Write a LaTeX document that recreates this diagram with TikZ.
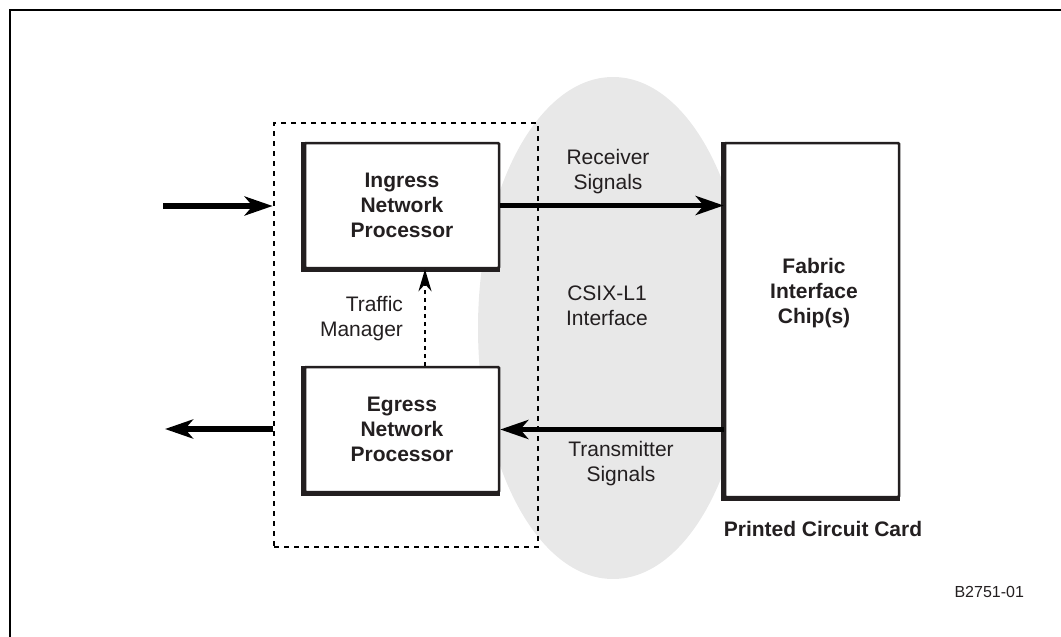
\documentclass[tikz,border=0pt]{standalone}
\usepackage{fontspec}
\setmainfont{Liberation Sans}
\usepackage{xcolor}
\usepackage{tikz}
\usetikzlibrary{positioning,arrows.meta}
\definecolor{ink}{HTML}{231F20}
\definecolor{csix}{HTML}{E8E8E8}

\begin{document}
\begin{tikzpicture}[
  x=0.5pt, y=-0.5pt,
  chip/.style={draw=ink, fill=white, line width=1.25pt, rounded corners=0.5pt, inner sep=0pt,
    align=center, text=ink, font=\fontsize{10.5}{12.5}\selectfont\bfseries},
  lbl/.style={text=ink, align=center, font=\fontsize{10.5}{12.5}\selectfont},
  blbl/.style={lbl, font=\fontsize{10.5}{12.5}\selectfont\bfseries},
  sig/.style={draw=black, line width=2.75pt, -{Stealth[length=14pt,width=9.5pt,inset=4pt]}},
  dotline/.style={draw=black, line width=1.35pt, dash pattern=on 2.5pt off 2.5pt}
]
\useasboundingbox (0,0) rectangle (1061,637);
% outer frame
\draw[line width=1pt] (10,10) rectangle (1080,660);

% CSIX-L1 region
\fill[csix] (613,328) ellipse [x radius=135, y radius=251];

% traffic manager box
\node[dotline, minimum width=132pt, minimum height=212pt, inner sep=0pt] (tm) at (406,335) {};

% processors and fabric chip
\node[chip, minimum width=97pt, minimum height=62.5pt] (ingress) at (402,205.5) {Ingress\\Network\\Processor};
\node[chip, minimum width=97pt, minimum height=62.5pt] (egress) at (402,429.5) {Egress\\Network\\Processor};
\node[chip, minimum width=87pt, minimum height=177pt] (fabric) at (812,320) {};
\foreach \n in {ingress,egress,fabric}
  \draw[ink, line width=2.5pt] (\n.north west) -- (\n.south west) -- (\n.south east);

% signals
\coordinate (inL) at (163,206);
\coordinate (outL) at (165,429);
\draw[sig] (inL) -- (inL -| tm.west);
\draw[sig] (tm.west |- outL) -- (outL);
\draw[sig] (ingress.east) -- (ingress.east -| fabric.west);
\draw[sig] (fabric.west |- egress.east) -- (egress.east);
\draw[dotline, line width=1.25pt, dash pattern=on 2pt off 2pt,
  -{Stealth[length=11pt,width=6.5pt,inset=3.5pt]}]
  ([xshift=11.5pt]egress.north) -- ([xshift=11.5pt]ingress.south);

% labels
\node[lbl, align=right, anchor=east] (tmlbl) at (410,318.5) {Traffic\\Manager};
\node[lbl] (rxlbl) at (608,171.5) {Receiver\\Signals};
\node[lbl] (csixlbl) at (607,306) {CSIX-L1\\Interface};
\node[lbl] (txlbl) at (621,463.5) {Transmitter\\Signals};
\node[blbl] (fabriclbl) at (814,293) {Fabric\\Interface\\Chip(s)};
\node[blbl] (pcb) at (823,529) {Printed Circuit Card};
\node[lbl, font=\fontsize{8}{10}\selectfont, anchor=east] (fig) at (1031,592) {B2751-01};
\end{tikzpicture}
\end{document}
